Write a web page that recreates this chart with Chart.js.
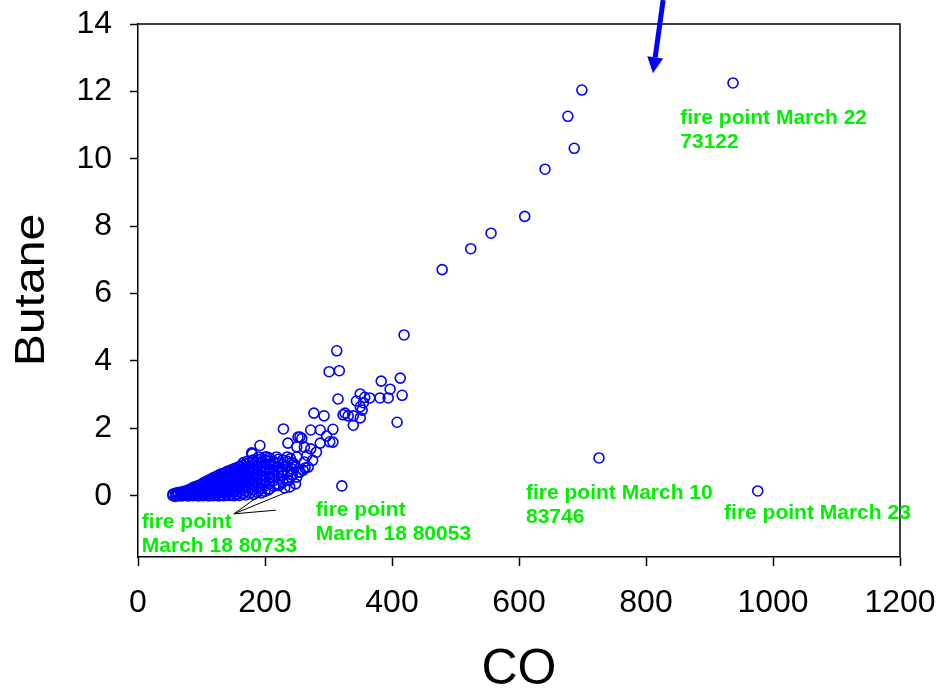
<!DOCTYPE html>
<html>
<head>
<meta charset="utf-8">
<title>Butane vs CO</title>
<script src="https://cdn.jsdelivr.net/npm/chart.js@4/dist/chart.umd.min.js"></script>
<style>
  html, body { margin: 0; padding: 0; background: #fff; }
  canvas { display: block; }
</style>
</head>
<body>
<canvas id="c" width="940" height="690"></canvas>
<script>
// Axis ticks
const coTicks = [0, 200, 400, 600, 800, 1000, 1200];
const butaneTicks = [0, 2, 4, 6, 8, 10, 12, 14];

// Dense low-concentration readings, grouped by CO value -> butane readings
const denseCO = [55, 59, 63, 67, 71, 75, 79, 83, 87, 91, 95, 99, 103, 107, 111, 115, 119, 123, 127, 131,
  135, 139, 143, 147, 151, 155, 160, 165, 170, 176, 182, 188, 194, 200, 207, 214, 221, 228, 235, 242];
const denseButane = [
  [0.00, 0.05],
  [-0.02, 0.03, 0.07],
  [0.01, 0.06, 0.09],
  [-0.01, 0.04, 0.10],
  [0.00, 0.06, 0.12],
  [0.02, 0.08, 0.14],
  [-0.01, 0.05, 0.11, 0.17],
  [0.01, 0.08, 0.15, 0.20],
  [0.00, 0.07, 0.14, 0.21, 0.25],
  [0.02, 0.10, 0.18, 0.27],
  [-0.01, 0.06, 0.13, 0.21, 0.30],
  [0.01, 0.09, 0.17, 0.25, 0.33],
  [0.00, 0.07, 0.15, 0.23, 0.31, 0.38],
  [0.02, 0.11, 0.19, 0.28, 0.36, 0.42],
  [-0.01, 0.06, 0.14, 0.23, 0.32, 0.40, 0.46],
  [0.01, 0.10, 0.18, 0.27, 0.35, 0.44, 0.49],
  [0.00, 0.07, 0.15, 0.24, 0.33, 0.42, 0.51, 0.54],
  [0.02, 0.11, 0.20, 0.29, 0.38, 0.47, 0.57],
  [-0.01, 0.08, 0.17, 0.26, 0.35, 0.44, 0.53, 0.61],
  [0.01, 0.12, 0.22, 0.31, 0.40, 0.49, 0.58, 0.65],
  [0.00, 0.09, 0.18, 0.28, 0.37, 0.46, 0.56, 0.66],
  [0.03, 0.13, 0.24, 0.34, 0.43, 0.52, 0.62, 0.71],
  [0.01, 0.10, 0.20, 0.30, 0.40, 0.50, 0.59, 0.68, 0.74],
  [0.02, 0.15, 0.26, 0.36, 0.46, 0.55, 0.65, 0.77],
  [0.00, 0.11, 0.22, 0.32, 0.42, 0.52, 0.62, 0.72, 0.80],
  [0.04, 0.17, 0.28, 0.38, 0.49, 0.59, 0.69, 0.83],
  [0.01, 0.12, 0.24, 0.35, 0.45, 0.56, 0.66, 0.76, 0.87],
  [0.05, 0.19, 0.31, 0.42, 0.53, 0.63, 0.74, 0.90],
  [0.02, 0.14, 0.27, 0.38, 0.50, 0.61, 0.72, 0.83, 0.94],
  [0.07, 0.22, 0.35, 0.47, 0.58, 0.70, 0.81, 0.99],
  [0.04, 0.17, 0.30, 0.43, 0.55, 0.67, 0.79, 0.92, 1.04],
  [0.10, 0.25, 0.39, 0.52, 0.64, 0.77, 0.89, 1.00],
  [0.08, 0.21, 0.35, 0.48, 0.61, 0.74, 0.86, 0.98, 1.09],
  [0.13, 0.29, 0.44, 0.57, 0.71, 0.84, 0.96, 1.06],
  [0.20, 0.36, 0.52, 0.66, 0.80, 0.93, 1.03, 1.12],
  [0.28, 0.45, 0.60, 0.75, 0.89, 1.01],
  [0.34, 0.51, 0.68, 0.84, 0.97, 1.08],
  [0.41, 0.60, 0.77, 0.93, 1.06],
  [0.47, 0.70, 0.87, 1.02],
  [0.62, 0.80, 0.98]
];

// Individual readings outside the dense cluster
const sparseCO = [
  699, 677, 687, 641, 609, 556, 524, 479, 937, 419, 726, 976, 321,
  313, 301, 317, 315, 383, 413, 397, 416, 408, 394, 381, 365, 357, 350, 344, 355, 350, 353, 350,
  339, 331, 323, 339, 326,
  277, 293, 272, 287, 307, 297, 307, 287, 272, 262, 250, 266, 281, 250, 235, 218, 203, 255, 258,
  229, 236, 192, 180, 260, 250, 239, 231, 205, 252, 302,
  245, 262, 275, 268, 255, 243, 238, 248, 228, 222, 263, 252, 179, 181, 200, 161,
  186, 198, 210, 216, 226, 233, 240, 246, 190, 172, 166
];
const sparseButane = [
  12.04, 11.26, 10.31, 9.69, 8.29, 7.79, 7.33, 6.71, 12.25, 4.77, 1.12, 0.14, 0.29,
  4.30, 3.68, 3.71, 2.87, 3.40, 3.49, 3.16, 2.98, 2.18, 2.90, 2.90, 2.90, 2.92, 3.02, 2.81, 2.76, 2.64, 2.54, 2.31,
  2.37, 2.37, 2.40, 2.09, 2.45,
  2.45, 2.37, 1.95, 1.95, 1.97, 1.77, 1.59, 1.56, 1.39, 1.44, 1.45, 1.20, 1.29, 1.15, 1.15, 1.15, 1.15, 1.74, 1.70,
  1.98, 1.56, 1.49, 1.24, 0.76, 0.55, 0.26, 0.23, 0.17, 1.74, 1.60,
  0.95, 1.00, 1.05, 0.85, 0.70, 0.62, 0.45, 0.35, 0.40, 0.30, 0.82, 0.70, 1.27, 1.06, 1.15, 0.85,
  0.62, 0.78, 0.55, 0.95, 0.72, 0.88, 1.10, 0.85, 1.15, 1.02, 0.98
];

// Annotated fire points: text lines and anchor in data units (CO, butane)
const fireLabelLines = [
  ['fire point March 22', '73122'],
  ['fire point March 10', '83746'],
  ['fire point March 23'],
  ['fire point', 'March 18 80053'],
  ['fire point', 'March 18 80733']
];
const fireLabelCO = [854, 611, 923, 280, 6];
const fireLabelButane = [11.21, 0.08, -0.51, -0.42, -0.78];

// Leader lines from the March 18 80733 label to its readings
const leaderFrom = [151, -0.54];
const leaderTo = [[197, 0.08], [235, 0.11], [217, -0.43]];

// Arrow pointing at the March 22 reading
const arrowFrom = [827, 14.71];
const arrowTo = [811, 12.54];

const points = [];
denseCO.forEach((co, i) => denseButane[i].forEach(b => points.push({ x: co, y: b })));
sparseCO.forEach((co, i) => points.push({ x: co, y: sparseButane[i] }));

const FONT = "'Liberation Sans', Arial, Helvetica, sans-serif";

const frameAndNotes = {
  id: 'frameAndNotes',
  afterDraw(chart) {
    const { ctx, chartArea: a, scales: { x, y } } = chart;
    const px = v => x.getPixelForValue(v);
    const py = v => y.getPixelForValue(v);
    ctx.save();

    // top and right edges of the plot frame
    ctx.strokeStyle = '#000';
    ctx.lineWidth = 1.5;
    ctx.beginPath();
    ctx.moveTo(a.left, a.top);
    ctx.lineTo(a.right, a.top);
    ctx.lineTo(a.right, a.bottom);
    ctx.stroke();

    // axis titles
    ctx.fillStyle = '#000';
    ctx.font = '50px ' + FONT;
    ctx.textAlign = 'center';
    ctx.textBaseline = 'alphabetic';
    ctx.fillText('CO', (a.left + a.right) / 2, 684);
    ctx.save();
    ctx.translate(44, 290);
    ctx.rotate(-Math.PI / 2);
    ctx.scale(1.12, 1);
    ctx.font = '43px ' + FONT;
    ctx.fillText('Butane', 0, 0);
    ctx.restore();

    // leader lines
    ctx.strokeStyle = '#000';
    ctx.lineWidth = 1;
    ctx.beginPath();
    leaderTo.forEach(t => {
      ctx.moveTo(px(leaderFrom[0]), py(leaderFrom[1]));
      ctx.lineTo(px(t[0]), py(t[1]));
    });
    ctx.stroke();

    // fire point labels
    ctx.fillStyle = '#00f000';
    ctx.font = 'bold 21px ' + FONT;
    ctx.textAlign = 'left';
    ctx.textBaseline = 'middle';
    fireLabelLines.forEach((lines, i) => {
      const lx = px(fireLabelCO[i]);
      const ly = py(fireLabelButane[i]);
      lines.forEach((t, k) => ctx.fillText(t, lx, ly + k * 24));
    });

    // arrow
    const x0 = px(arrowFrom[0]), y0 = py(arrowFrom[1]);
    const x1 = px(arrowTo[0]), y1 = py(arrowTo[1]);
    const ang = Math.atan2(y1 - y0, x1 - x0);
    const headLen = 16, headHalf = 8;
    const bx = x1 - headLen * Math.cos(ang), by = y1 - headLen * Math.sin(ang);
    ctx.strokeStyle = '#0000ff';
    ctx.fillStyle = '#0000ff';
    ctx.lineWidth = 5;
    ctx.beginPath();
    ctx.moveTo(x0, y0);
    ctx.lineTo(bx, by);
    ctx.stroke();
    ctx.beginPath();
    ctx.moveTo(x1, y1);
    ctx.lineTo(bx + headHalf * Math.sin(ang), by - headHalf * Math.cos(ang));
    ctx.lineTo(bx - headHalf * Math.sin(ang), by + headHalf * Math.cos(ang));
    ctx.closePath();
    ctx.fill();

    ctx.restore();
  }
};

new Chart(document.getElementById('c'), {
  type: 'scatter',
  data: {
    datasets: [{
      data: points,
      pointStyle: 'circle',
      pointRadius: 5,
      pointBorderWidth: 1.6,
      borderColor: '#0000ff',
      backgroundColor: 'rgba(0,0,0,0)',
      pointHoverRadius: 5
    }]
  },
  options: {
    responsive: false,
    animation: false,
    devicePixelRatio: 1,
    layout: { padding: { left: 0, right: 40, top: 24, bottom: 0 } },
    plugins: { legend: { display: false }, tooltip: { enabled: false } },
    scales: {
      x: {
        type: 'linear',
        min: 0,
        max: 1200,
        afterBuildTicks: s => { s.ticks = coTicks.map(v => ({ value: v })); },
        afterFit: s => { s.height = 133; s.paddingLeft = 0; s.paddingRight = 0; },
        grid: { drawOnChartArea: false, drawTicks: true, tickLength: 9, tickColor: '#000', tickWidth: 1.5 },
        border: { display: true, color: '#000', width: 1.5 },
        ticks: { color: '#000', font: { family: FONT, size: 32 }, padding: 18, maxRotation: 0,
          callback: v => String(v) }
      },
      y: {
        type: 'linear',
        min: -1.82,
        max: 14,
        afterBuildTicks: s => { s.ticks = butaneTicks.map(v => ({ value: v })); },
        afterFit: s => { s.width = 138; s.paddingTop = 0; s.paddingBottom = 0; },
        grid: { drawOnChartArea: false, drawTicks: true, tickLength: 8, tickColor: '#000', tickWidth: 1.5 },
        border: { display: true, color: '#000', width: 1.5 },
        ticks: { color: '#000', font: { family: FONT, size: 32 }, padding: 18,
          callback: v => String(v) }
      }
    }
  },
  plugins: [frameAndNotes]
});
</script>
</body>
</html>
